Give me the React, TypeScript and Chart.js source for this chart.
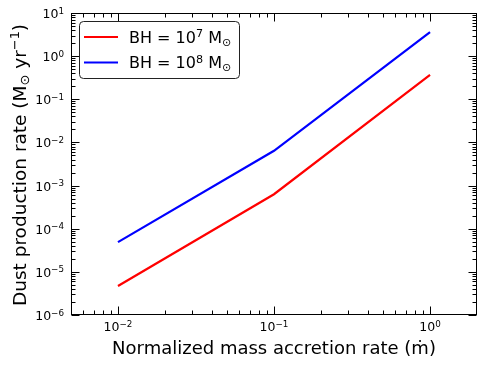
import React, { useEffect, useRef } from "react";
import { Chart, registerables } from "chart.js";

Chart.register(...registerables);

// ---- data ----
const accretionRates = [0.01, 0.1, 1];
const dustBH7 = [4.7e-6, 6.3e-4, 0.37];
const dustBH8 = [4.9e-5, 6.4e-3, 3.6];
const seriesLabels = ["BH = 10⁷ M⊙", "BH = 10⁸ M⊙"];
const seriesMath = ["BH = 10^{7} M_{⊙}", "BH = 10^{8} M_{⊙}"];
const seriesColors = ["#ff0000", "#0000ff"];

const xTickValues = [0.01, 0.1, 1];
const xTickLabels = ["10^{−2}", "10^{−1}", "10^{0}"];
const yTickValues = [1e-6, 1e-5, 1e-4, 1e-3, 1e-2, 1e-1, 1, 10];
const yTickLabels = ["10^{−6}", "10^{−5}", "10^{−4}", "10^{−3}", "10^{−2}", "10^{−1}", "10^{0}", "10^{1}"];

const xTitle = "Normalized mass accretion rate (ṁ)";
const yTitleMath = "Dust production rate (M_{⊙} yr^{−1})";

const FONT = '"DejaVu Sans", sans-serif';

type Seg = { t: string; k: number };
function parseMath(s: string): Seg[] {
  const out: Seg[] = [];
  let i = 0;
  let buf = "";
  while (i < s.length) {
    const c = s[i];
    if ((c === "^" || c === "_") && s[i + 1] === "{") {
      if (buf) {
        out.push({ t: buf, k: 0 });
        buf = "";
      }
      const end = s.indexOf("}", i + 2);
      out.push({ t: s.slice(i + 2, end), k: c === "^" ? 1 : -1 });
      i = end + 1;
    } else {
      buf += c;
      i++;
    }
  }
  if (buf) out.push({ t: buf, k: 0 });
  return out;
}

function drawMath(ctx: CanvasRenderingContext2D, s: string, x: number, y: number, size: number, align: string) {
  const segs = parseMath(s);
  const widths = segs.map((g) => {
    ctx.font = `${g.k ? size * 0.7 : size}px ${FONT}`;
    return ctx.measureText(g.t).width;
  });
  const total = widths.reduce((a, b) => a + b, 0);
  let cx = align === "center" ? x - total / 2 : align === "right" ? x - total : x;
  ctx.textAlign = "left";
  ctx.textBaseline = "alphabetic";
  segs.forEach((g, i) => {
    ctx.font = `${g.k ? size * 0.7 : size}px ${FONT}`;
    const dy = g.k === 1 ? -0.36 * size : g.k === -1 ? 0.18 * size : 0;
    ctx.fillText(g.t, cx, y + dy);
    cx += widths[i];
  });
}

const decorPlugin = {
  id: "decor",
  beforeDraw(chart: any) {
    const ctx = chart.ctx;
    ctx.save();
    ctx.fillStyle = "#ffffff";
    ctx.fillRect(0, 0, chart.width, chart.height);
    ctx.restore();
  },
  afterDraw(chart: any) {
    const ctx: CanvasRenderingContext2D = chart.ctx;
    const { left, right, top, bottom } = chart.chartArea;
    const L = Math.round(left) + 0.5;
    const R = Math.round(right) - 0.5;
    const T = Math.round(top) + 0.5;
    const B = Math.round(bottom) - 0.5;
    ctx.save();
    ctx.strokeStyle = "#000";
    ctx.lineWidth = 1;
    ctx.strokeRect(L, T, R - L, B - T);

    const majorLen = 8;
    const minorLen = 4;
    const drawTicks = (scale: any, horizontal: boolean) => {
      const mn = scale.min;
      const mx = scale.max;
      const n0 = Math.floor(Math.log10(mn));
      const n1 = Math.ceil(Math.log10(mx));
      for (let n = n0; n <= n1; n++) {
        for (let k = 1; k <= 9; k++) {
          const v = k * Math.pow(10, n);
          if (v < mn * 0.9999 || v > mx * 0.9999) continue;
          const p = Math.round(scale.getPixelForValue(v)) + 0.5;
          const len = k === 1 ? majorLen : minorLen;
          ctx.beginPath();
          if (horizontal) {
            ctx.moveTo(p, B);
            ctx.lineTo(p, B - len);
            ctx.moveTo(p, T);
            ctx.lineTo(p, T + len);
          } else {
            ctx.moveTo(L, p);
            ctx.lineTo(L + len, p);
            ctx.moveTo(R, p);
            ctx.lineTo(R - len, p);
          }
          ctx.stroke();
        }
      }
    };
    drawTicks(chart.scales.x, true);
    drawTicks(chart.scales.y, false);

    ctx.fillStyle = "#000";
    // tick labels
    xTickValues.forEach((v, i) => {
      const px = chart.scales.x.getPixelForValue(v);
      drawMath(ctx, xTickLabels[i], px, bottom + 16, 12.5, "center");
    });
    yTickValues.forEach((v, i) => {
      const py = chart.scales.y.getPixelForValue(v);
      drawMath(ctx, yTickLabels[i], left - 7, py + 5, 12.5, "right");
    });

    // y title
    ctx.save();
    ctx.translate(26, (top + bottom) / 2 + 1);
    ctx.rotate(-Math.PI / 2);
    drawMath(ctx, yTitleMath, 0, 0, 18.5, "center");
    ctx.restore();

    // legend
    const bx = 79.5, by = 21.5, bw = 160, bh = 57, r = 4;
    ctx.beginPath();
    ctx.moveTo(bx + r, by);
    ctx.lineTo(bx + bw - r, by);
    ctx.arcTo(bx + bw, by, bx + bw, by + r, r);
    ctx.lineTo(bx + bw, by + bh - r);
    ctx.arcTo(bx + bw, by + bh, bx + bw - r, by + bh, r);
    ctx.lineTo(bx + r, by + bh);
    ctx.arcTo(bx, by + bh, bx, by + bh - r, r);
    ctx.lineTo(bx, by + r);
    ctx.arcTo(bx, by, bx + r, by, r);
    ctx.closePath();
    ctx.fillStyle = "#ffffff";
    ctx.fill();
    ctx.strokeStyle = "#222";
    ctx.lineWidth = 1;
    ctx.stroke();

    chart.data.datasets.forEach((ds: any, i: number) => {
      const ly = 37 + i * 25.5;
      ctx.strokeStyle = ds.borderColor;
      ctx.lineWidth = 2;
      ctx.beginPath();
      ctx.moveTo(84, ly);
      ctx.lineTo(118, ly);
      ctx.stroke();
      ctx.fillStyle = "#000";
      drawMath(ctx, seriesMath[i], 129, ly + 5.8, 16, "left");
    });
    ctx.restore();
  },
};

export default function App() {
  const canvasRef = useRef<HTMLCanvasElement | null>(null);

  useEffect(() => {
    if (!canvasRef.current) return;
    const chart = new Chart(canvasRef.current, {
      type: "line",
      data: {
        datasets: [
          {
            label: seriesLabels[0],
            data: accretionRates.map((x, i) => ({ x, y: dustBH7[i] })),
            borderColor: seriesColors[0],
            backgroundColor: seriesColors[0],
            borderWidth: 2.2,
            pointRadius: 0,
            tension: 0,
          },
          {
            label: seriesLabels[1],
            data: accretionRates.map((x, i) => ({ x, y: dustBH8[i] })),
            borderColor: seriesColors[1],
            backgroundColor: seriesColors[1],
            borderWidth: 2.2,
            pointRadius: 0,
            tension: 0,
          },
        ],
      },
      options: {
        responsive: true,
        maintainAspectRatio: false,
        animation: false,
        layout: { padding: { top: 13, right: 8, left: 0, bottom: 0 } },
        plugins: { legend: { display: false }, tooltip: { enabled: false } },
        scales: {
          x: {
            type: "logarithmic",
            position: "bottom",
            min: 0.005,
            max: 2,
            afterBuildTicks: (s: any) => {
              s.ticks = xTickValues.map((v) => ({ value: v }));
            },
            afterFit: (s: any) => {
              s.height = 51;
            },
            grid: { display: false, drawTicks: false },
            border: { display: false },
            ticks: { display: false },
            title: {
              display: true,
              text: xTitle,
              color: "#000",
              font: { family: FONT, size: 18 },
              padding: { top: 0, bottom: 6 },
            },
          },
          y: {
            type: "logarithmic",
            position: "left",
            min: 1e-6,
            max: 10,
            afterBuildTicks: (s: any) => {
              s.ticks = yTickValues.map((v) => ({ value: v }));
            },
            afterFit: (s: any) => {
              s.width = 71;
            },
            grid: { display: false, drawTicks: false },
            border: { display: false },
            ticks: { display: false },
            title: { display: false },
          },
        },
      },
      plugins: [decorPlugin],
    } as any);
    return () => chart.destroy();
  }, []);

  return (
    <div style={{ position: "fixed", left: 0, top: 0, width: 485, height: 366, background: "#fff" }}>
      <canvas ref={canvasRef} />
    </div>
  );
}
